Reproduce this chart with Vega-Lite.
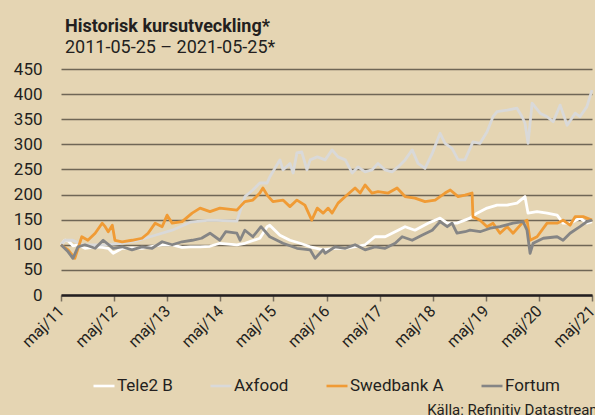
{
  "$schema": "https://vega.github.io/schema/vega-lite/v6.json",
  "width": 531,
  "height": 226,
  "autosize": {"type": "none"},
  "padding": {"left": 61, "top": 69, "right": 3, "bottom": 120},
  "background": "#E5D5B3",
  "title": {
    "text": "Historisk kursutveckling*",
    "subtitle": "2011-05-25 – 2021-05-25*",
    "anchor": "start",
    "frame": "group",
    "dx": 4,
    "offset": 3,
    "font": "Roboto",
    "fontSize": 18,
    "fontWeight": "bold",
    "color": "#231F20",
    "subtitleFont": "Roboto",
    "subtitleFontSize": 18,
    "subtitleColor": "#231F20",
    "subtitlePadding": 3
  },
  "config": {
    "view": {"stroke": null},
    "font": "Roboto"
  },
  "data": {
    "values": [
      {"d": "2011-05-25", "s": "Tele2 B", "v": 100},
      {"d": "2011-06-21", "s": "Tele2 B", "v": 109},
      {"d": "2011-07-13", "s": "Tele2 B", "v": 108},
      {"d": "2011-08-15", "s": "Tele2 B", "v": 98},
      {"d": "2011-09-19", "s": "Tele2 B", "v": 100},
      {"d": "2011-11-06", "s": "Tele2 B", "v": 93},
      {"d": "2012-01-15", "s": "Tele2 B", "v": 96},
      {"d": "2012-03-03", "s": "Tele2 B", "v": 95},
      {"d": "2012-04-14", "s": "Tele2 B", "v": 93},
      {"d": "2012-05-18", "s": "Tele2 B", "v": 83},
      {"d": "2012-07-19", "s": "Tele2 B", "v": 93},
      {"d": "2012-09-24", "s": "Tele2 B", "v": 94},
      {"d": "2012-12-02", "s": "Tele2 B", "v": 93},
      {"d": "2013-03-03", "s": "Tele2 B", "v": 98},
      {"d": "2013-04-20", "s": "Tele2 B", "v": 100},
      {"d": "2013-06-28", "s": "Tele2 B", "v": 100},
      {"d": "2013-09-04", "s": "Tele2 B", "v": 95},
      {"d": "2013-10-30", "s": "Tele2 B", "v": 96},
      {"d": "2014-01-06", "s": "Tele2 B", "v": 96},
      {"d": "2014-03-15", "s": "Tele2 B", "v": 97},
      {"d": "2014-05-22", "s": "Tele2 B", "v": 103},
      {"d": "2014-09-16", "s": "Tele2 B", "v": 100},
      {"d": "2014-11-10", "s": "Tele2 B", "v": 103},
      {"d": "2015-02-21", "s": "Tele2 B", "v": 113},
      {"d": "2015-04-12", "s": "Tele2 B", "v": 136},
      {"d": "2015-04-30", "s": "Tele2 B", "v": 139},
      {"d": "2015-07-09", "s": "Tele2 B", "v": 119},
      {"d": "2015-09-16", "s": "Tele2 B", "v": 109},
      {"d": "2015-11-25", "s": "Tele2 B", "v": 103},
      {"d": "2016-02-02", "s": "Tele2 B", "v": 96},
      {"d": "2016-05-01", "s": "Tele2 B", "v": 90},
      {"d": "2016-07-23", "s": "Tele2 B", "v": 93},
      {"d": "2016-10-01", "s": "Tele2 B", "v": 93},
      {"d": "2017-02-14", "s": "Tele2 B", "v": 100},
      {"d": "2017-04-23", "s": "Tele2 B", "v": 116},
      {"d": "2017-07-02", "s": "Tele2 B", "v": 116},
      {"d": "2017-09-09", "s": "Tele2 B", "v": 126},
      {"d": "2017-11-16", "s": "Tele2 B", "v": 136},
      {"d": "2018-01-23", "s": "Tele2 B", "v": 129},
      {"d": "2018-04-23", "s": "Tele2 B", "v": 143},
      {"d": "2018-07-15", "s": "Tele2 B", "v": 153},
      {"d": "2018-09-02", "s": "Tele2 B", "v": 143},
      {"d": "2018-11-08", "s": "Tele2 B", "v": 143},
      {"d": "2019-01-02", "s": "Tele2 B", "v": 149},
      {"d": "2019-02-06", "s": "Tele2 B", "v": 153},
      {"d": "2019-03-26", "s": "Tele2 B", "v": 163},
      {"d": "2019-06-03", "s": "Tele2 B", "v": 173},
      {"d": "2019-08-11", "s": "Tele2 B", "v": 179},
      {"d": "2019-10-19", "s": "Tele2 B", "v": 179},
      {"d": "2019-12-26", "s": "Tele2 B", "v": 183},
      {"d": "2020-02-19", "s": "Tele2 B", "v": 196},
      {"d": "2020-03-11", "s": "Tele2 B", "v": 163},
      {"d": "2020-05-12", "s": "Tele2 B", "v": 166},
      {"d": "2020-07-20", "s": "Tele2 B", "v": 163},
      {"d": "2020-09-27", "s": "Tele2 B", "v": 159},
      {"d": "2020-11-07", "s": "Tele2 B", "v": 143},
      {"d": "2020-12-25", "s": "Tele2 B", "v": 143},
      {"d": "2021-03-03", "s": "Tele2 B", "v": 153},
      {"d": "2021-04-20", "s": "Tele2 B", "v": 143},
      {"d": "2021-05-25", "s": "Tele2 B", "v": 146},

      {"d": "2011-05-25", "s": "Axfood", "v": 100},
      {"d": "2011-06-21", "s": "Axfood", "v": 109},
      {"d": "2011-08-15", "s": "Axfood", "v": 109},
      {"d": "2011-10-15", "s": "Axfood", "v": 100},
      {"d": "2012-03-24", "s": "Axfood", "v": 100},
      {"d": "2012-07-19", "s": "Axfood", "v": 103},
      {"d": "2012-11-06", "s": "Axfood", "v": 109},
      {"d": "2013-03-03", "s": "Axfood", "v": 119},
      {"d": "2013-06-28", "s": "Axfood", "v": 129},
      {"d": "2013-10-15", "s": "Axfood", "v": 143},
      {"d": "2013-10-30", "s": "Axfood", "v": 145},
      {"d": "2014-03-15", "s": "Axfood", "v": 149},
      {"d": "2014-09-16", "s": "Axfood", "v": 147},
      {"d": "2014-11-10", "s": "Axfood", "v": 196},
      {"d": "2015-01-04", "s": "Axfood", "v": 209},
      {"d": "2015-02-21", "s": "Axfood", "v": 223},
      {"d": "2015-04-12", "s": "Axfood", "v": 223},
      {"d": "2015-04-30", "s": "Axfood", "v": 235},
      {"d": "2015-07-09", "s": "Axfood", "v": 269},
      {"d": "2015-07-30", "s": "Axfood", "v": 249},
      {"d": "2015-09-16", "s": "Axfood", "v": 262},
      {"d": "2015-10-08", "s": "Axfood", "v": 243},
      {"d": "2015-11-03", "s": "Axfood", "v": 283},
      {"d": "2015-12-06", "s": "Axfood", "v": 285},
      {"d": "2016-01-11", "s": "Axfood", "v": 249},
      {"d": "2016-02-02", "s": "Axfood", "v": 269},
      {"d": "2016-03-22", "s": "Axfood", "v": 275},
      {"d": "2016-05-15", "s": "Axfood", "v": 269},
      {"d": "2016-07-02", "s": "Axfood", "v": 289},
      {"d": "2016-08-12", "s": "Axfood", "v": 275},
      {"d": "2016-10-01", "s": "Axfood", "v": 269},
      {"d": "2016-11-17", "s": "Axfood", "v": 243},
      {"d": "2016-12-27", "s": "Axfood", "v": 255},
      {"d": "2017-02-14", "s": "Axfood", "v": 245},
      {"d": "2017-04-02", "s": "Axfood", "v": 249},
      {"d": "2017-05-14", "s": "Axfood", "v": 262},
      {"d": "2017-07-02", "s": "Axfood", "v": 249},
      {"d": "2017-08-18", "s": "Axfood", "v": 245},
      {"d": "2017-09-29", "s": "Axfood", "v": 255},
      {"d": "2017-11-16", "s": "Axfood", "v": 269},
      {"d": "2018-01-04", "s": "Axfood", "v": 289},
      {"d": "2018-02-13", "s": "Axfood", "v": 262},
      {"d": "2018-04-02", "s": "Axfood", "v": 252},
      {"d": "2018-05-22", "s": "Axfood", "v": 282},
      {"d": "2018-07-15", "s": "Axfood", "v": 322},
      {"d": "2018-08-18", "s": "Axfood", "v": 302},
      {"d": "2018-10-05", "s": "Axfood", "v": 292},
      {"d": "2018-11-16", "s": "Axfood", "v": 269},
      {"d": "2019-01-02", "s": "Axfood", "v": 269},
      {"d": "2019-02-26", "s": "Axfood", "v": 305},
      {"d": "2019-04-16", "s": "Axfood", "v": 302},
      {"d": "2019-06-03", "s": "Axfood", "v": 325},
      {"d": "2019-07-14", "s": "Axfood", "v": 355},
      {"d": "2019-08-11", "s": "Axfood", "v": 365},
      {"d": "2019-10-19", "s": "Axfood", "v": 368},
      {"d": "2019-12-26", "s": "Axfood", "v": 372},
      {"d": "2020-01-30", "s": "Axfood", "v": 355},
      {"d": "2020-02-19", "s": "Axfood", "v": 342},
      {"d": "2020-03-11", "s": "Axfood", "v": 302},
      {"d": "2020-04-08", "s": "Axfood", "v": 382},
      {"d": "2020-06-02", "s": "Axfood", "v": 362},
      {"d": "2020-07-20", "s": "Axfood", "v": 355},
      {"d": "2020-08-31", "s": "Axfood", "v": 345},
      {"d": "2020-10-18", "s": "Axfood", "v": 378},
      {"d": "2020-12-05", "s": "Axfood", "v": 338},
      {"d": "2021-01-29", "s": "Axfood", "v": 362},
      {"d": "2021-03-03", "s": "Axfood", "v": 355},
      {"d": "2021-04-20", "s": "Axfood", "v": 375},
      {"d": "2021-05-25", "s": "Axfood", "v": 408},

      {"d": "2011-05-25", "s": "Swedbank A", "v": 100},
      {"d": "2011-07-13", "s": "Swedbank A", "v": 90},
      {"d": "2011-08-28", "s": "Swedbank A", "v": 73},
      {"d": "2011-10-15", "s": "Swedbank A", "v": 116},
      {"d": "2011-11-26", "s": "Swedbank A", "v": 109},
      {"d": "2012-01-15", "s": "Swedbank A", "v": 123},
      {"d": "2012-03-03", "s": "Swedbank A", "v": 143},
      {"d": "2012-03-24", "s": "Swedbank A", "v": 136},
      {"d": "2012-04-14", "s": "Swedbank A", "v": 126},
      {"d": "2012-05-12", "s": "Swedbank A", "v": 139},
      {"d": "2012-05-30", "s": "Swedbank A", "v": 109},
      {"d": "2012-07-19", "s": "Swedbank A", "v": 106},
      {"d": "2012-09-24", "s": "Swedbank A", "v": 109},
      {"d": "2012-12-02", "s": "Swedbank A", "v": 113},
      {"d": "2013-01-13", "s": "Swedbank A", "v": 123},
      {"d": "2013-03-03", "s": "Swedbank A", "v": 143},
      {"d": "2013-04-20", "s": "Swedbank A", "v": 136},
      {"d": "2013-05-24", "s": "Swedbank A", "v": 159},
      {"d": "2013-06-28", "s": "Swedbank A", "v": 143},
      {"d": "2013-09-04", "s": "Swedbank A", "v": 146},
      {"d": "2013-11-12", "s": "Swedbank A", "v": 163},
      {"d": "2014-01-06", "s": "Swedbank A", "v": 173},
      {"d": "2014-03-15", "s": "Swedbank A", "v": 166},
      {"d": "2014-05-22", "s": "Swedbank A", "v": 173},
      {"d": "2014-09-16", "s": "Swedbank A", "v": 169},
      {"d": "2014-10-08", "s": "Swedbank A", "v": 176},
      {"d": "2014-11-10", "s": "Swedbank A", "v": 186},
      {"d": "2015-01-04", "s": "Swedbank A", "v": 189},
      {"d": "2015-02-21", "s": "Swedbank A", "v": 203},
      {"d": "2015-03-14", "s": "Swedbank A", "v": 213},
      {"d": "2015-04-12", "s": "Swedbank A", "v": 199},
      {"d": "2015-05-22", "s": "Swedbank A", "v": 186},
      {"d": "2015-07-30", "s": "Swedbank A", "v": 189},
      {"d": "2015-09-16", "s": "Swedbank A", "v": 176},
      {"d": "2015-11-03", "s": "Swedbank A", "v": 189},
      {"d": "2015-12-28", "s": "Swedbank A", "v": 179},
      {"d": "2016-02-13", "s": "Swedbank A", "v": 149},
      {"d": "2016-03-22", "s": "Swedbank A", "v": 173},
      {"d": "2016-05-01", "s": "Swedbank A", "v": 163},
      {"d": "2016-06-05", "s": "Swedbank A", "v": 173},
      {"d": "2016-07-02", "s": "Swedbank A", "v": 163},
      {"d": "2016-08-12", "s": "Swedbank A", "v": 183},
      {"d": "2016-10-01", "s": "Swedbank A", "v": 196},
      {"d": "2016-12-07", "s": "Swedbank A", "v": 213},
      {"d": "2017-01-11", "s": "Swedbank A", "v": 203},
      {"d": "2017-02-14", "s": "Swedbank A", "v": 219},
      {"d": "2017-04-02", "s": "Swedbank A", "v": 203},
      {"d": "2017-05-14", "s": "Swedbank A", "v": 206},
      {"d": "2017-07-23", "s": "Swedbank A", "v": 203},
      {"d": "2017-09-22", "s": "Swedbank A", "v": 213},
      {"d": "2017-11-16", "s": "Swedbank A", "v": 196},
      {"d": "2018-01-23", "s": "Swedbank A", "v": 193},
      {"d": "2018-04-02", "s": "Swedbank A", "v": 186},
      {"d": "2018-06-11", "s": "Swedbank A", "v": 189},
      {"d": "2018-08-18", "s": "Swedbank A", "v": 203},
      {"d": "2018-09-23", "s": "Swedbank A", "v": 209},
      {"d": "2018-11-16", "s": "Swedbank A", "v": 196},
      {"d": "2019-01-02", "s": "Swedbank A", "v": 199},
      {"d": "2019-02-20", "s": "Swedbank A", "v": 203},
      {"d": "2019-02-26", "s": "Swedbank A", "v": 156},
      {"d": "2019-04-16", "s": "Swedbank A", "v": 149},
      {"d": "2019-06-03", "s": "Swedbank A", "v": 136},
      {"d": "2019-07-14", "s": "Swedbank A", "v": 143},
      {"d": "2019-08-31", "s": "Swedbank A", "v": 123},
      {"d": "2019-10-19", "s": "Swedbank A", "v": 136},
      {"d": "2019-11-29", "s": "Swedbank A", "v": 123},
      {"d": "2020-01-30", "s": "Swedbank A", "v": 143},
      {"d": "2020-03-04", "s": "Swedbank A", "v": 149},
      {"d": "2020-03-25", "s": "Swedbank A", "v": 109},
      {"d": "2020-05-12", "s": "Swedbank A", "v": 116},
      {"d": "2020-07-20", "s": "Swedbank A", "v": 143},
      {"d": "2020-09-27", "s": "Swedbank A", "v": 143},
      {"d": "2020-11-07", "s": "Swedbank A", "v": 149},
      {"d": "2020-12-25", "s": "Swedbank A", "v": 139},
      {"d": "2021-01-29", "s": "Swedbank A", "v": 156},
      {"d": "2021-03-25", "s": "Swedbank A", "v": 156},
      {"d": "2021-05-25", "s": "Swedbank A", "v": 149},

      {"d": "2011-05-25", "s": "Fortum", "v": 100},
      {"d": "2011-07-13", "s": "Fortum", "v": 86},
      {"d": "2011-08-15", "s": "Fortum", "v": 73},
      {"d": "2011-09-19", "s": "Fortum", "v": 96},
      {"d": "2011-11-06", "s": "Fortum", "v": 100},
      {"d": "2012-01-15", "s": "Fortum", "v": 93},
      {"d": "2012-03-10", "s": "Fortum", "v": 109},
      {"d": "2012-05-18", "s": "Fortum", "v": 93},
      {"d": "2012-07-19", "s": "Fortum", "v": 96},
      {"d": "2012-09-24", "s": "Fortum", "v": 90},
      {"d": "2012-12-02", "s": "Fortum", "v": 96},
      {"d": "2013-02-10", "s": "Fortum", "v": 93},
      {"d": "2013-04-20", "s": "Fortum", "v": 106},
      {"d": "2013-06-28", "s": "Fortum", "v": 100},
      {"d": "2013-09-04", "s": "Fortum", "v": 106},
      {"d": "2013-11-12", "s": "Fortum", "v": 109},
      {"d": "2014-01-16", "s": "Fortum", "v": 113},
      {"d": "2014-03-15", "s": "Fortum", "v": 123},
      {"d": "2014-05-22", "s": "Fortum", "v": 109},
      {"d": "2014-07-01", "s": "Fortum", "v": 126},
      {"d": "2014-09-16", "s": "Fortum", "v": 123},
      {"d": "2014-10-08", "s": "Fortum", "v": 109},
      {"d": "2014-11-10", "s": "Fortum", "v": 129},
      {"d": "2015-01-04", "s": "Fortum", "v": 116},
      {"d": "2015-03-01", "s": "Fortum", "v": 136},
      {"d": "2015-04-30", "s": "Fortum", "v": 116},
      {"d": "2015-07-30", "s": "Fortum", "v": 103},
      {"d": "2015-11-03", "s": "Fortum", "v": 93},
      {"d": "2016-02-02", "s": "Fortum", "v": 90},
      {"d": "2016-03-07", "s": "Fortum", "v": 73},
      {"d": "2016-05-01", "s": "Fortum", "v": 90},
      {"d": "2016-05-15", "s": "Fortum", "v": 83},
      {"d": "2016-07-23", "s": "Fortum", "v": 96},
      {"d": "2016-10-01", "s": "Fortum", "v": 93},
      {"d": "2016-12-07", "s": "Fortum", "v": 100},
      {"d": "2017-02-14", "s": "Fortum", "v": 90},
      {"d": "2017-04-23", "s": "Fortum", "v": 96},
      {"d": "2017-07-02", "s": "Fortum", "v": 93},
      {"d": "2017-09-09", "s": "Fortum", "v": 103},
      {"d": "2017-10-27", "s": "Fortum", "v": 116},
      {"d": "2018-01-04", "s": "Fortum", "v": 109},
      {"d": "2018-03-12", "s": "Fortum", "v": 119},
      {"d": "2018-05-22", "s": "Fortum", "v": 129},
      {"d": "2018-07-15", "s": "Fortum", "v": 146},
      {"d": "2018-09-02", "s": "Fortum", "v": 136},
      {"d": "2018-10-05", "s": "Fortum", "v": 143},
      {"d": "2018-11-08", "s": "Fortum", "v": 123},
      {"d": "2019-01-02", "s": "Fortum", "v": 126},
      {"d": "2019-02-06", "s": "Fortum", "v": 129},
      {"d": "2019-04-16", "s": "Fortum", "v": 126},
      {"d": "2019-06-25", "s": "Fortum", "v": 133},
      {"d": "2019-08-31", "s": "Fortum", "v": 136},
      {"d": "2019-11-29", "s": "Fortum", "v": 143},
      {"d": "2020-02-06", "s": "Fortum", "v": 146},
      {"d": "2020-03-04", "s": "Fortum", "v": 129},
      {"d": "2020-03-25", "s": "Fortum", "v": 83},
      {"d": "2020-04-15", "s": "Fortum", "v": 103},
      {"d": "2020-06-24", "s": "Fortum", "v": 113},
      {"d": "2020-09-27", "s": "Fortum", "v": 116},
      {"d": "2020-11-07", "s": "Fortum", "v": 109},
      {"d": "2020-12-25", "s": "Fortum", "v": 123},
      {"d": "2021-03-03", "s": "Fortum", "v": 136},
      {"d": "2021-04-20", "s": "Fortum", "v": 146},
      {"d": "2021-05-25", "s": "Fortum", "v": 149}
    ]
  },
  "mark": {"type": "line", "strokeWidth": 2.8, "strokeJoin": "round"},
  "encoding": {
    "x": {
      "field": "d",
      "type": "temporal",
      "scale": {"domain": ["2011-05-25", "2021-05-25"]},
      "axis": {
        "values": ["2011-05-25", "2012-05-25", "2013-05-25", "2014-05-25", "2015-05-25", "2016-05-25", "2017-05-25", "2018-05-25", "2019-05-25", "2020-05-25", "2021-05-25"],
        "labelExpr": "'maj/' + timeFormat(datum.value, '%y')",
        "labelAngle": -45,
        "labelAlign": "right",
        "labelBaseline": "middle",
        "labelFont": "Roboto",
        "labelFontSize": 16,
        "labelColor": "#231F20",
        "labelPadding": 7,
        "labelFlush": false,
        "labelOverlap": false,
        "domainColor": "#231F20",
        "domainWidth": 2.5,
        "tickColor": "#7A7060",
        "tickWidth": 1.5,
        "tickSize": 6,
        "grid": false,
        "title": "Källa: Refinitiv Datastream",
        "titleFont": "Roboto",
        "titleFontSize": 15,
        "titleFontWeight": "normal",
        "titleColor": "#231F20",
        "titleAnchor": "end",
        "titleAlign": "right",
        "titleBaseline": "alphabetic",
        "titleY": 119,
        "titleX": 541
      }
    },
    "y": {
      "field": "v",
      "type": "quantitative",
      "scale": {"domain": [0, 450], "nice": false},
      "axis": {
        "values": [0, 50, 100, 150, 200, 250, 300, 350, 400, 450],
        "title": null,
        "domain": false,
        "ticks": false,
        "labelFont": "Roboto",
        "labelFontSize": 17,
        "labelColor": "#231F20",
        "labelPadding": 19,
        "grid": true,
        "gridColor": "#6F6656",
        "gridWidth": 1.5
      }
    },
    "color": {
      "field": "s",
      "type": "nominal",
      "sort": ["Tele2 B", "Axfood", "Swedbank A", "Fortum"],
      "scale": {
        "domain": ["Tele2 B", "Axfood", "Swedbank A", "Fortum"],
        "range": ["#FFFFFF", "#D9D9D9", "#F09B35", "#858585"]
      },
      "legend": {
        "title": null,
        "orient": "none",
        "direction": "horizontal",
        "legendX": 31,
        "legendY": 305,
        "symbolType": "stroke",
        "symbolSize": 441,
        "symbolStrokeWidth": 2.6,
        "labelOffset": 1,
        "labelFont": "Roboto",
        "labelFontSize": 17,
        "labelColor": "#231F20",
        "columnPadding": 32
      }
    }
  }
}
